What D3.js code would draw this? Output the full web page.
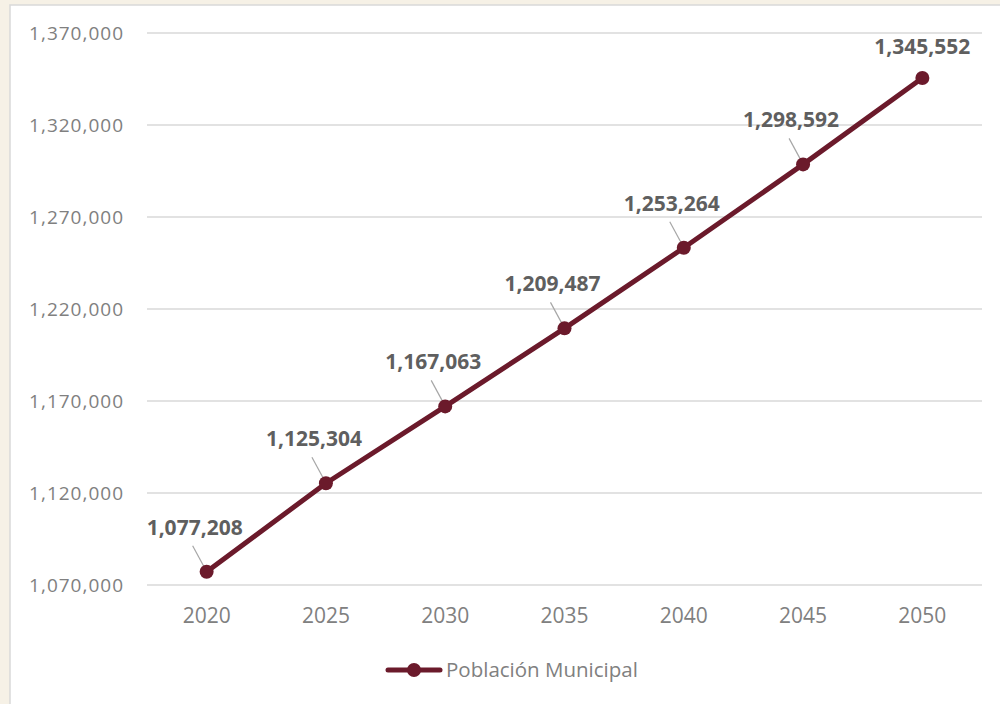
<!DOCTYPE html>
<html><head><meta charset="utf-8">
<script src="https://cdn.jsdelivr.net/npm/d3@7"></script>
<style>
html,body{margin:0;padding:0;background:#f6f1e6;}
svg{display:block;font-family:"Open Sans","Noto Sans","Liberation Sans",sans-serif;}
</style></head>
<body>
<svg id="c" width="1000" height="704"></svg>
<script>
const years = ["2020","2025","2030","2035","2040","2045","2050"];
const poblacion = [1077208,1125304,1167063,1209487,1253264,1298592,1345552];
const yTicks = [1070000,1120000,1170000,1220000,1270000,1320000,1370000];
const seriesName = "Población Municipal";

(function(){
const svg = d3.select("#c");
const W = 1000, H = 704;
const FONT = "'Open Sans','Noto Sans','Liberation Sans',sans-serif";
svg.append("rect").attr("x",0).attr("y",0).attr("width",W).attr("height",H).attr("fill","#f6f1e6");
svg.append("rect").attr("x",10).attr("y",5).attr("width",W).attr("height",H)
  .attr("fill","#ffffff").attr("stroke","#d9d9d9").attr("stroke-width",1.5);

const mLeft = 147, mRight = 982, mTop = 33, mBottom = 585;
const x = d3.scaleBand().domain(years).range([mLeft,mRight]);
const y = d3.scaleLinear().domain([1070000,1370000]).range([mBottom,mTop]);
const fmt = d3.format(",");

svg.append("g").selectAll("line").data(yTicks).join("line")
  .attr("x1",mLeft).attr("x2",mRight)
  .attr("y1",d=>y(d)).attr("y2",d=>y(d))
  .attr("stroke","#d9d9d9").attr("stroke-width",1.5);

const yAxis = svg.append("g").attr("transform",`translate(${mLeft},0)`)
  .call(d3.axisLeft(y).tickValues(yTicks).tickFormat(fmt).tickSize(0).tickPadding(23));
yAxis.select(".domain").remove();
yAxis.selectAll("text").attr("fill","#808080").style("font-size","19px")
  .style("letter-spacing","1px").style("font-family",FONT);

const xAxis = svg.append("g").attr("transform",`translate(0,${mBottom})`)
  .call(d3.axisBottom(x).tickSize(0).tickPadding(23));
xAxis.select(".domain").remove();
xAxis.selectAll("text").attr("fill","#808080").style("font-size","21px")
  .style("font-family",FONT);

const cx = d => x(d) + x.bandwidth()/2;
const color = "#6b1a2b";

const pts = years.map((yr,i)=>({yr, v:poblacion[i]}));
svg.append("g").selectAll("line").data(pts.filter((d,i)=>i<pts.length-1)).join("line")
  .attr("x1",d=>cx(d.yr)-14).attr("y1",d=>y(d.v)-26)
  .attr("x2",d=>cx(d.yr)-1).attr("y2",d=>y(d.v)-2)
  .attr("stroke","#a6a6a6").attr("stroke-width",1.2);

svg.append("path").datum(pts)
  .attr("d",d3.line().x(d=>cx(d.yr)).y(d=>y(d.v)))
  .attr("fill","none").attr("stroke",color).attr("stroke-width",5).attr("stroke-linejoin","round");

svg.append("g").selectAll("circle").data(pts).join("circle")
  .attr("cx",d=>cx(d.yr)).attr("cy",d=>y(d.v)).attr("r",7).attr("fill",color);

svg.append("g").selectAll("text").data(pts).join("text")
  .attr("x",(d,i)=> i<pts.length-1 ? cx(d.yr)-12 : cx(d.yr))
  .attr("y",(d,i)=> i<pts.length-1 ? y(d.v)-37 : y(d.v)-24)
  .attr("text-anchor","middle")
  .attr("fill","#5f5f5f").attr("font-weight","bold").style("font-size","21px")
  .text(d=>fmt(d.v));

const ly = 670;
svg.append("line").attr("x1",388).attr("x2",440).attr("y1",ly).attr("y2",ly)
  .attr("stroke",color).attr("stroke-width",5).attr("stroke-linecap","round");
svg.append("circle").attr("cx",414).attr("cy",ly).attr("r",7).attr("fill",color);
svg.append("text").attr("x",446).attr("y",ly+7).attr("fill","#808080")
  .style("font-size","20.5px").text(seriesName);
})();
</script>
</body></html>
